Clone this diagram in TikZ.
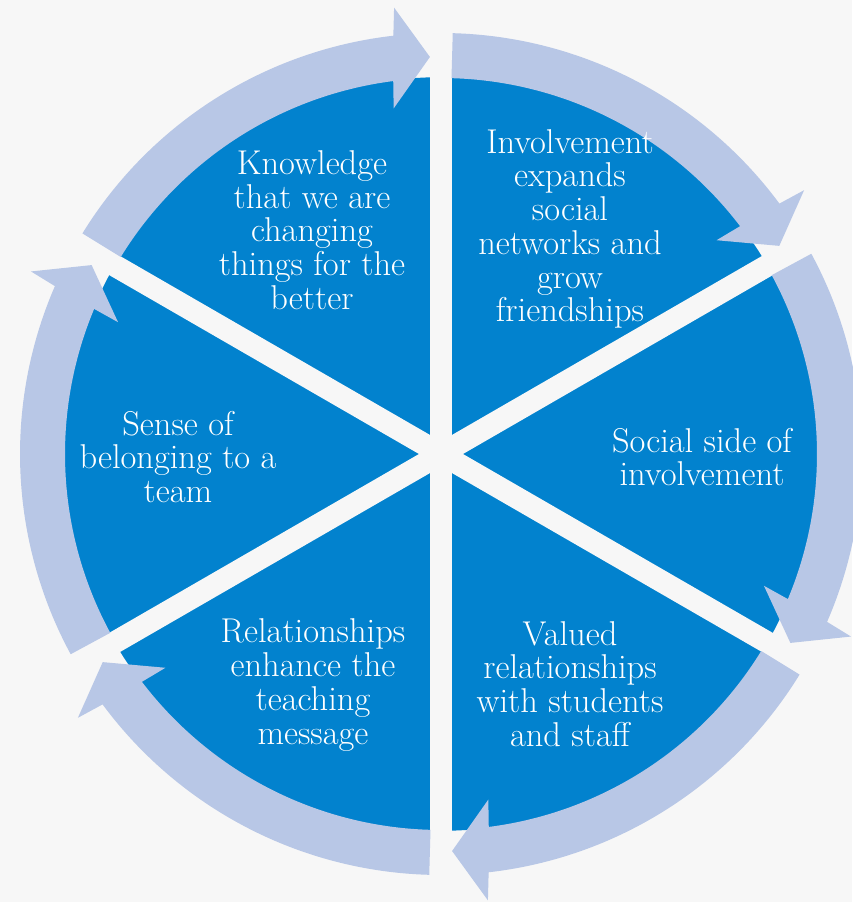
\documentclass[tikz,border=0pt]{standalone}
\usepackage{tikz}
\definecolor{pieblue}{RGB}{2,130,206}
\definecolor{ringblue}{RGB}{184,199,230}
\definecolor{paper}{RGB}{247,247,247}

\begin{document}
\begin{tikzpicture}[txt/.style={text=white, align=center, font=\fontsize{24.5}{24}\selectfont}]
    % === BACKGROUND ===
    \fill[paper] (-11.025,-11.2) rectangle (10.275,11.35);
    \useasboundingbox (-11.025,-11.2) rectangle (10.275,11.35);

    % === PIE WITH SIX SECTORS ===
    \fill[pieblue] (0,0) circle (9.42);
    \foreach \a in {90,30,-30}
        \draw[paper, line width=0.55cm] (\a:11.4) -- (\a+180:11.4);

    % === RING ARROWS (clockwise) ===
    \foreach \a in {150,90,30,-30,-90,-150} {
        \pgfmathsetmacro\s{\a-1.6}
        \pgfmathsetmacro\e{\a-58.4}
        \pgfmathsetmacro\bi{\e+5.7}
        \pgfmathsetmacro\bo{\e+4.9}
        \fill[ringblue] (\s:9.4) arc[start angle=\s, end angle=\bi, radius=9.4]
            -- (\e+6.2:8.72) -- (\e:9.93) -- (\e+4.4:11.22) -- (\bo:10.525)
            arc[start angle=\bo, end angle=\s, radius=10.525] -- cycle;
    }

    % === SECTOR TEXTS ===
    \node[txt] (know) at (-3.225,5.6) {Knowledge\\that we are\\changing\\things for the\\better};
    \node[txt] (involve) at (3.225,5.625) {Involvement\\expands\\social\\networks and\\grow\\friendships};
    \node[txt] (social) at (6.525,-0.075) {Social side of\\involvement};
    \node[txt] (valued) at (3.225,-5.75) {Valued\\relationships\\with students\\and staff};
    \node[txt] (relate) at (-3.2,-5.775) {Relationships\\enhance the\\teaching\\message};
    \node[txt] (sense) at (-6.575,-0.075) {Sense of\\belonging to a\\team};
\end{tikzpicture}
\end{document}
